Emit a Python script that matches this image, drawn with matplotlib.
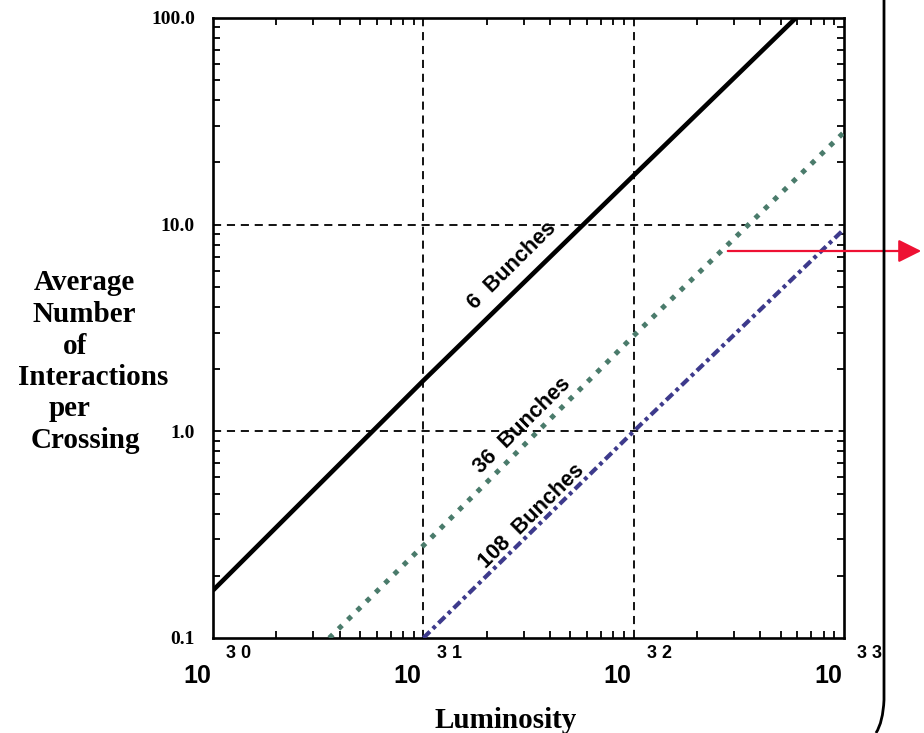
import matplotlib
matplotlib.use("Agg")
import matplotlib.pyplot as plt
from matplotlib.patches import FancyArrowPatch, PathPatch
from matplotlib.path import Path
from matplotlib.ticker import LogLocator, NullFormatter
import matplotlib.transforms as mtransforms

# luminosity (cm^-2 s^-1) vs average interactions per crossing
lum_6 = [1e30, 1e31, 1e32, 5.9e32]
int_6 = [0.17, 1.76, 17.3, 100.0]

lum_36 = [3.57e30, 1e31, 1e32, 1e33]
int_36 = [0.1, 0.28, 2.9, 28.0]

lum_108 = [1e31, 1e32, 1e33]
int_108 = [0.1, 1.0, 9.5]

x_decades = [1e30, 1e31, 1e32, 1e33]
x_exponents = ["3 0", "3 1", "3 2", "3 3"]
y_ticks = [0.1, 1.0, 10.0, 100.0]
y_ticklabels = ["0.1", "1.0", "10.0", "100.0"]

ylabel_lines = ["Average", "Number", "of", "Interactions", "per", "Crossing"]
ylabel_centers = [84, 84, 75, 93, 70, 85]

W, H = 924, 733
fig = plt.figure(figsize=(W / 100, H / 100), dpi=100)
ax = fig.add_axes([213 / W, 1 - 638 / H, (844 - 213) / W, (638 - 18) / H])
ax.set_xscale("log")
ax.set_yscale("log")
ax.set_xlim(1e30, 1e33)
ax.set_ylim(0.1, 100)

serif = "Liberation Serif"
sans = "Liberation Sans"

# dashed grid at the inner decades
for xv in x_decades[1:-1]:
    ax.axvline(xv, color="black", lw=1.3, dashes=(4.5, 3.2), zorder=1)
for yv in y_ticks[1:-1]:
    ax.axhline(yv, color="black", lw=1.3, dashes=(4.5, 3.2), zorder=1)

ax.plot(lum_6, int_6, color="black", lw=3.3, solid_capstyle="butt", zorder=3)
ax.plot(lum_36, int_36, color="#4a7b6b", lw=3.6, dashes=(1.0, 1.6),
        dash_capstyle="butt", zorder=3)
ax.plot(lum_108, int_108, color="#3d3a8c", lw=3.0, dashes=(2.2, 1.0, 0.9, 1.0),
        dash_capstyle="butt", zorder=3)

# labels along the lines
ang = 44.6
ax.text(2.65e31, 6.3, "6  Bunches", rotation=ang, rotation_mode="anchor",
        ha="center", va="center", fontsize=15.5, fontweight="bold", family=sans)
ax.text(2.96e31, 1.07, "36  Bunches", rotation=ang, rotation_mode="anchor",
        ha="center", va="center", fontsize=15.5, fontweight="bold", family=sans)
ax.text(3.27e31, 0.39, "108  Bunches", rotation=ang, rotation_mode="anchor",
        ha="center", va="center", fontsize=15.5, fontweight="bold", family=sans)

for s in ax.spines.values():
    s.set_linewidth(1.9)

ax.xaxis.set_minor_locator(LogLocator(base=10, subs=range(2, 10), numticks=20))
ax.yaxis.set_minor_locator(LogLocator(base=10, subs=range(2, 10), numticks=20))
ax.xaxis.set_minor_formatter(NullFormatter())
ax.yaxis.set_minor_formatter(NullFormatter())
ax.tick_params(which="minor", direction="in", length=5, width=1.3,
               top=True, right=True)
ax.tick_params(which="major", direction="in", length=0, top=True, right=True)

ax.set_xticks(x_decades)
ax.set_xticklabels([])
ax.set_yticks(y_ticks)
ax.set_yticklabels(y_ticklabels, fontsize=14, fontweight="bold", family=serif)
ax.tick_params(axis="y", which="major", pad=13)

# x labels as 10 with a raised exponent
trans = mtransforms.blended_transform_factory(ax.transData, fig.transFigure)
for xv, ex in zip(x_decades, x_exponents):
    ax.text(xv, 1 - 676 / H, "10", transform=trans + mtransforms.ScaledTranslation(-16 / 100, 0, fig.dpi_scale_trans),
            ha="center", va="center", fontsize=18, fontweight="bold", family=sans,
            clip_on=False)
    ax.text(xv, 1 - 653 / H, ex, transform=trans + mtransforms.ScaledTranslation(26 / 100, 0, fig.dpi_scale_trans),
            ha="center", va="center", fontsize=13, fontweight="bold", family=sans,
            clip_on=False)

fig.text(506 / W, 1 - 720 / H, "Luminosity", ha="center", va="center",
         fontsize=21, fontweight="bold", family=serif)

y0 = 283
for i, (line, cx) in enumerate(zip(ylabel_lines, ylabel_centers)):
    fig.text(cx / W, 1 - (y0 + i * 31.5) / H, line, ha="center", va="center",
             fontsize=21, fontweight="bold", family=serif)

# red arrow pointing off to the right
arrow = FancyArrowPatch((725 / W, 1 - 251 / H), (924 / W, 1 - 251 / H),
                        transform=fig.transFigure, color="#ee1133", lw=1.6,
                        arrowstyle="-|>,head_length=1.0,head_width=0.5",
                        mutation_scale=14)
fig.patches.append(arrow)

# bracket line on the right
verts = [(884 / W, 1.0), (884 / W, 1 - 700 / H), (883 / W, 1 - 722 / H), (876 / W, 0.0)]
codes = [Path.MOVETO, Path.LINETO, Path.CURVE3, Path.CURVE3]
fig.patches.append(PathPatch(Path(verts, codes), transform=fig.transFigure,
                             fill=False, lw=2.0, edgecolor="black"))

fig.savefig("out.png", dpi=100)
